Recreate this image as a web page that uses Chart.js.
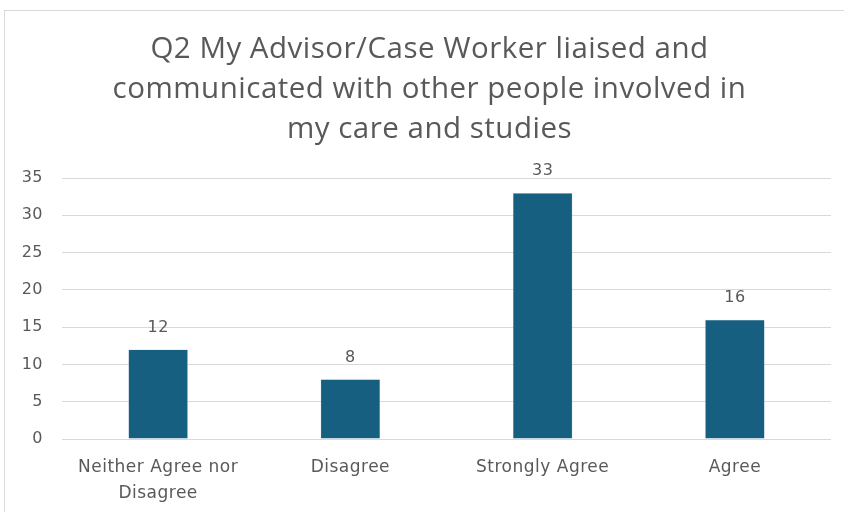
<!DOCTYPE html>
<html>
<head>
<meta charset="utf-8">
<script src="https://cdn.jsdelivr.net/npm/chart.js@4/dist/chart.umd.min.js"></script>
<style>
  html, body { margin: 0; padding: 0; background: #fff; }
  body { width: 844px; height: 512px; position: relative; overflow: hidden; }
  .marco { position: absolute; left: 4px; top: 10px; width: 900px; height: 600px; border: 1px solid #d9d9d9; }
  #grafico { position: absolute; left: 0; top: 0; }
</style>
</head>
<body>
<div class="marco"></div>
<canvas id="grafico" width="844" height="512"></canvas>
<script>
const titulo = [
  "Q2 My Advisor/Case Worker liaised and",
  "communicated with other people involved in",
  "my care and studies"
];
const categorias = [["Neither Agree nor", "Disagree"], "Disagree", "Strongly Agree", "Agree"];
const respuestas = [12, 8, 33, 16];
const ejeY = { min: 0, max: 35, paso: 5 };

const gris = "#595959";
const fuenteTitulo = "'Open Sans', 'Liberation Sans', sans-serif";
const fuente = "'DejaVu Sans', 'Liberation Sans', sans-serif";

// un poco de espacio entre letras y el título algo corrido a la derecha
const ajustes = {
  id: "ajustes",
  afterLayout(chart) {
    if (chart.titleBlock) chart.titleBlock.left += 18;
  },
  beforeDraw(chart) {
    chart.ctx.letterSpacing = "0.5px";
  }
};

// etiquetas de valor encima de cada barra
const etiquetasValor = {
  id: "etiquetasValor",
  afterDatasetsDraw(chart) {
    const ctx = chart.ctx;
    const meta = chart.getDatasetMeta(0);
    ctx.save();
    ctx.font = "16px " + fuente;
    ctx.fillStyle = gris;
    ctx.textAlign = "center";
    ctx.textBaseline = "middle";
    meta.data.forEach((barra, i) => {
      ctx.fillText(String(respuestas[i]), barra.x, barra.y - 22);
    });
    ctx.restore();
  }
};

new Chart(document.getElementById("grafico"), {
  type: "bar",
  data: {
    labels: categorias,
    datasets: [{
      data: respuestas,
      backgroundColor: "#175f80",
      borderColor: "#b9cfdb",
      borderWidth: 0.5,
      barPercentage: 0.31,
      categoryPercentage: 1
    }]
  },
  options: {
    responsive: false,
    animation: false,
    layout: { padding: { left: 10, right: 13, top: 0, bottom: 0 } },
    plugins: {
      legend: { display: false },
      tooltip: { enabled: false },
      title: {
        display: true,
        text: titulo,
        color: gris,
        font: { family: fuenteTitulo, size: 29.5, weight: "normal", lineHeight: 1.356 },
        padding: { top: 30, bottom: 28 }
      }
    },
    scales: {
      x: {
        grid: { display: false },
        border: { display: false },
        ticks: {
          color: gris,
          font: { family: fuente, size: 17, lineHeight: 1.53 },
          padding: 8,
          maxRotation: 0,
          autoSkip: false
        },
        afterFit(scale) { scale.height = 73; }
      },
      y: {
        min: ejeY.min,
        max: ejeY.max,
        ticks: {
          stepSize: ejeY.paso,
          color: gris,
          font: { family: fuente, size: 16 },
          padding: 19
        },
        grid: { color: "#d9d9d9", lineWidth: 1, drawTicks: false },
        border: { display: false },
        afterFit(scale) { scale.width = 52; }
      }
    }
  },
  plugins: [ajustes, etiquetasValor]
});
</script>
</body>
</html>
